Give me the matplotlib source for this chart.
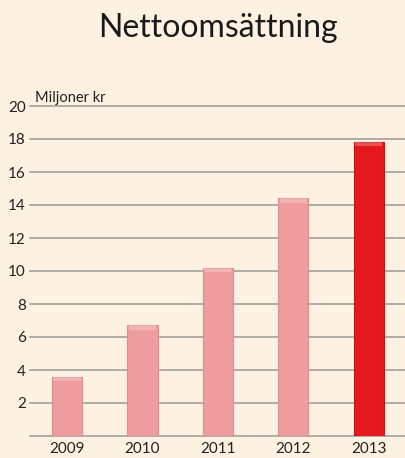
import matplotlib.pyplot as plt

years = ["2009", "2010", "2011", "2012", "2013"]
values = [3.6, 6.7, 10.2, 14.4, 17.8]
bar_colors = ["#EF9C9E", "#EF9C9E", "#EF9C9E", "#EF9C9E", "#E3191C"]
yticks = [2, 4, 6, 8, 10, 12, 14, 16, 18, 20]

bg = "#FDF2E1"
plt.rcParams["font.family"] = ["Lato", "DejaVu Sans"]

fig = plt.figure(figsize=(4.05, 4.58), dpi=100, facecolor=bg)
ax = fig.add_axes([30 / 405, 22 / 458, 375 / 405, 330 / 458])
ax.set_facecolor(bg)

for y in [0] + yticks:
    ax.axhline(y, color="#999999", lw=1.1, zorder=1, clip_on=False)

x = range(len(years))
ax.bar(x, values, width=0.4, color=bar_colors, zorder=2,
       edgecolor=["#E08A8C"] * 4 + ["#CC1015"], linewidth=0.8)
# light highlight along the top of each bar
ax.bar(x, [0.25] * len(values), bottom=[v - 0.25 for v in values], width=0.36,
       color="white", alpha=0.25, zorder=3, linewidth=0)

ax.set_xlim(-0.49, 4.48)
ax.set_ylim(0, 20)
ax.set_xticks(list(x))
ax.set_xticklabels(years, fontsize=11, color="#222222")
ax.set_yticks(yticks)
ax.set_yticklabels([str(t) for t in yticks], fontsize=11, color="#222222")
ax.tick_params(length=0, pad=3)
ax.tick_params(axis="x", pad=4)
for s in ax.spines.values():
    s.set_visible(False)

ax.text(0.013, 1.004, "Miljoner kr", fontsize=10.5, color="#222222", va="bottom",
        transform=ax.transAxes)
fig.text(0.538, 0.938, "Nettoomsättning", fontsize=23, ha="center", va="center",
         color="#1a1a1a")

fig.savefig("out.png", dpi=100, facecolor=bg)
